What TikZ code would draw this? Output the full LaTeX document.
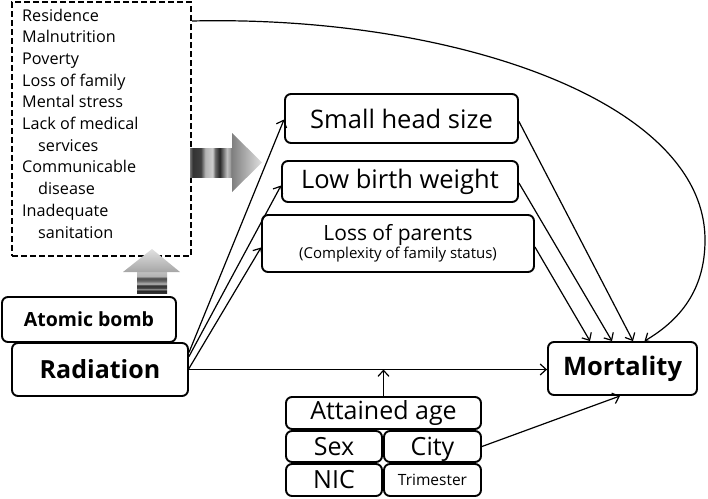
\documentclass[tikz,border=0pt]{standalone}
\usepackage{fontspec}
\setmainfont{Open Sans}
\usetikzlibrary{arrows.meta,calc}
\pgfdeclarehorizontalshading{rstripes}{100bp}{color(0bp)=(black!55); color(25bp)=(black!55); color(28bp)=(black!80); color(37bp)=(black!75); color(42bp)=(black!30); color(50bp)=(black!20); color(53bp)=(black!60); color(58bp)=(black!85); color(62bp)=(black!55); color(66bp)=(black!25); color(70bp)=(black!40); color(73bp)=(black!85); color(75bp)=(black!80); color(100bp)=(black!80)}
\pgfdeclareverticalshading{ustripes}{100bp}{color(0bp)=(black!80); color(25bp)=(black!80); color(31bp)=(black!85); color(34bp)=(black!35); color(37bp)=(black!75); color(43bp)=(black!80); color(47bp)=(black!30); color(54bp)=(black!60); color(60bp)=(black!70); color(65bp)=(black!30); color(75bp)=(black!25); color(100bp)=(black!25)}
\tikzset{
  box/.style={draw, line width=1.9pt, rounded corners=6pt, inner sep=0pt, align=center},
  conn/.style={line width=1.2pt, -{Straight Barb[length=6pt,width=11pt,line width=1.2pt]}},
  dbox/.style={draw, line width=2pt, dash pattern=on 6pt off 3pt, inner sep=0pt}
}
\begin{document}
\begin{tikzpicture}[x=1pt,y=-1pt]
\useasboundingbox (0,0) rectangle (708,498);
% dashed factor box
\node[dbox, minimum width=179pt, minimum height=254pt] (factors) at (101.5,129) {};
\node[anchor=north west, inner sep=0pt, align=left, font=\fontsize{16.2}{21.7}\selectfont] (flist) at (22,8.5)
 {Residence\\Malnutrition\\Poverty\\Loss of family\\Mental stress\\Lack of medical\\\hspace*{16pt}services\\Communicable\\\hspace*{16pt}disease\\Inadequate\\\hspace*{16pt}sanitation};
% shaded arrows
\shade[shading=rstripes] (190,148) rectangle (235,177);
\shade[left color=black!50, right color=black!12] (232,133) -- (262,162.5) -- (232,192) -- cycle;
\shade[shading=ustripes] (137,272) rectangle (167,293);
\shade[top color=black!12, bottom color=black!35] (123,272) -- (152,249) -- (180,272) -- cycle;
% nodes
\node[box, minimum width=174pt, minimum height=45pt, font=\fontsize{19.5}{21}\selectfont\bfseries] (bomb) at (89,319.5) {Atomic bomb};
\node[box, minimum width=176pt, minimum height=53pt, font=\fontsize{25}{27}\selectfont\bfseries] (rad) at (100,369.5) {Radiation};
\node[box, minimum width=233pt, minimum height=49pt, font=\fontsize{25.5}{27}\selectfont] (small) at (401.5,118.5) {Small head size};
\node[box, minimum width=236pt, minimum height=41pt, font=\fontsize{25.5}{27}\selectfont] (lbw) at (400,181.5) {Low birth weight};
\node[box, minimum width=272pt, minimum height=57pt] (lop) at (398,243.5) {{\fontsize{21}{23}\selectfont Loss of parents}\\[0pt]{\fontsize{15}{16}\selectfont (Complexity of family status)}};
\node[box, minimum width=149pt, minimum height=53pt, font=\fontsize{25.5}{27}\selectfont\bfseries] (mort) at (622.5,368.5) {Mortality};
\node[box, minimum width=195pt, minimum height=32pt, font=\fontsize{25}{26}\selectfont] (age) at (383.5,413) {Attained age};
\node[box, minimum width=96pt, minimum height=31pt, font=\fontsize{25}{26}\selectfont] (sex) at (334,446.5) {Sex};
\node[box, minimum width=97pt, minimum height=31pt, text depth=0pt, font=\fontsize{25}{26}\selectfont] (city) at (432.5,446.5) {City};
\node[box, minimum width=96pt, minimum height=32pt, font=\fontsize{25}{26}\selectfont] (nic) at (334,480) {NIC};
\node[box, minimum width=97pt, minimum height=32pt, font=\fontsize{15.5}{17}\selectfont] (tri) at (432.5,480) {Trimester};
% connectors
\draw[conn] ([yshift=17pt]rad.east) -- ([yshift=-1pt]small.west);
\draw[conn] ([yshift=13pt]rad.east) -- ([yshift=-4pt]lbw.west);
\draw[conn] ([yshift=1pt]rad.east) -- ([yshift=-4pt]lop.west);
\draw[conn] (rad.east) -- (rad.east -| mort.west);
\draw[conn] ([yshift=-3pt]small.east) -- ([xshift=10.5pt]mort.north);
\draw[conn] ([yshift=-1.5pt]lbw.east) -- ([xshift=-10.5pt]mort.north);
\draw[conn] ([yshift=-3.5pt]lop.east) -- ([xshift=-32.5pt]mort.north);
\draw[conn] ([yshift=-20pt]factors.north east) .. controls (450,15) and (705,100) .. (705,240)
  .. controls (705,290) and (680,320) .. ([xshift=22pt]mort.north);
\draw[conn] (city.east) -- ([xshift=-2.5pt]mort.south);
\draw[conn] (age.north) -- (age.north |- rad.east);
\end{tikzpicture}
\end{document}
